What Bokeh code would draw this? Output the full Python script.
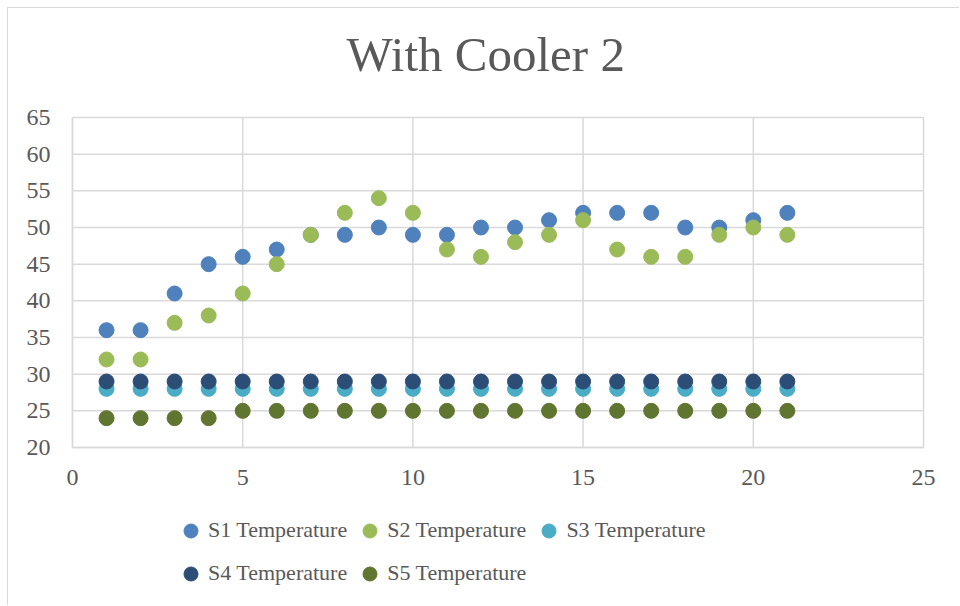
from bokeh.plotting import figure
from bokeh.models import FixedTicker, Legend, LegendItem, Range1d, Label
from bokeh.embed import file_html
from bokeh.resources import INLINE

title_text = "With Cooler 2"
x_values = list(range(1, 22))
s1 = [36, 36, 41, 45, 46, 47, 49, 49, 50, 49, 49, 50, 50, 51, 52, 52, 52, 50, 50, 51, 52]
s2 = [32, 32, 37, 38, 41, 45, 49, 52, 54, 52, 47, 46, 48, 49, 51, 47, 46, 46, 49, 50, 49]
s3 = [28] * 21
s4 = [29] * 21
s5 = [24, 24, 24, 24, 25, 25, 25, 25, 25, 25, 25, 25, 25, 25, 25, 25, 25, 25, 25, 25, 25]
series_names = ["S1 Temperature", "S2 Temperature", "S3 Temperature", "S4 Temperature", "S5 Temperature"]
series_colors = ["#4F81BD", "#9BBB59", "#4BACC6", "#2C4D75", "#5F7530"]
x_ticks = [0, 5, 10, 15, 20, 25]
y_ticks = [20, 25, 30, 35, 40, 45, 50, 55, 60, 65]

FONT = "Liberation Serif"
TXT = "#595959"
GRID = "#d9d9d9"

X_MIN, X_MAX = x_ticks[0], x_ticks[-1]
Y_MIN, Y_MAX = y_ticks[0], y_ticks[-1]
W, H = 952, 598
# plot area (page px): x 72..923, y 117..447 ; figure content starts at page (8, 8)
L, R, T, B = 72 - 8, 923 - 8, 117 - 8, 447 - 8
xu = (R - L) / (X_MAX - X_MIN)
yu = (B - T) / (Y_MAX - Y_MIN)
x_range = Range1d(X_MIN - L / xu, X_MAX + (W - R) / xu)
y_range = Range1d(Y_MIN - (H - B) / yu, Y_MAX + T / yu)

p = figure(width=W, height=H, output_backend="svg", toolbar_location=None,
           x_range=x_range, y_range=y_range,
           min_border_left=0, min_border_right=0, min_border_top=0, min_border_bottom=0)
p.margin = (7, 0, 0, 7)
p.styles = {"border-top": "1px solid #d9d9d9", "border-left": "1px solid #d9d9d9"}
p.outline_line_color = None
p.background_fill_color = "white"
p.border_fill_color = "white"
p.grid.visible = False

# gridlines limited to the plot area, built from the tick arrays
p.segment(x0=x_ticks, y0=[Y_MIN] * len(x_ticks), x1=x_ticks, y1=[Y_MAX] * len(x_ticks),
          line_color=GRID, line_width=1.5)
p.segment(x0=[X_MIN] * len(y_ticks), y0=y_ticks, x1=[X_MAX] * len(y_ticks), y1=y_ticks,
          line_color=GRID, line_width=1.5)

for ax, ticks in ((p.xaxis[0], x_ticks), (p.yaxis[0], y_ticks)):
    ax.ticker = FixedTicker(ticks=ticks)
    ax.axis_line_color = GRID
    ax.axis_line_width = 1.5
    ax.major_tick_line_color = None
    ax.minor_tick_line_color = None
    ax.major_label_text_font = FONT
    ax.major_label_text_font_size = "24px"
    ax.major_label_text_color = TXT
p.yaxis[0].major_label_standoff = 16
p.yaxis[0].bounds = (Y_MIN, Y_MAX)
p.yaxis[0].fixed_location = X_MIN
p.xaxis[0].major_label_standoff = 16
p.xaxis[0].bounds = (X_MIN, X_MAX)
p.xaxis[0].fixed_location = Y_MIN

renderers = []
for ys, name, col in zip([s1, s2, s3, s4, s5], series_names, series_colors):
    r = p.scatter(x_values, ys, size=15, marker="circle", fill_color=col, line_color=col)
    renderers.append(r)

legend = Legend(items=[LegendItem(label=n, renderers=[r]) for n, r in zip(series_names, renderers)],
                orientation="horizontal", ncols=3, location=(165, 14), margin=0,
                label_text_font=FONT, label_text_font_size="22px", label_text_color=TXT,
                glyph_width=35, glyph_height=35, label_standoff=0, spacing=5,
                label_height=38, padding=0, border_line_color=None, background_fill_alpha=0)
p.add_layout(legend, "center")

title = Label(x=346 - 8, y=H - (73 - 8) + 19, x_units="screen", y_units="screen", text=title_text,
              text_font=FONT, text_font_size="49px", text_color=TXT,
              text_align="left", text_baseline="alphabetic")
p.add_layout(title)

open("out.html", "w").write(file_html(p, INLINE))
